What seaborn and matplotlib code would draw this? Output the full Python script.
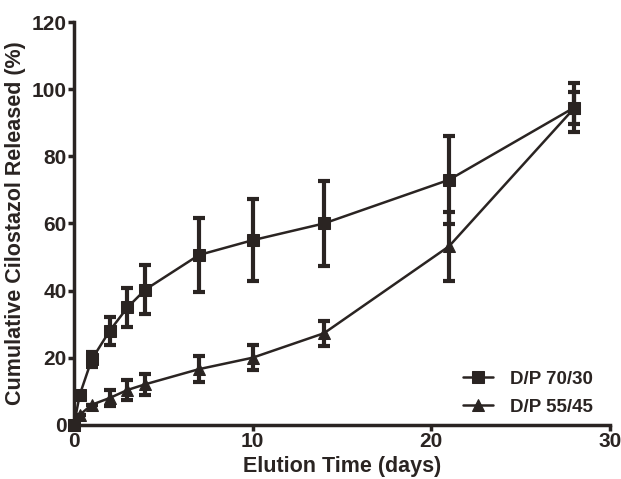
import numpy as np
import pandas as pd
import matplotlib
matplotlib.use('Agg')
import matplotlib.pyplot as plt
import seaborn as sns

# data
days = [0, 0.33, 1, 2, 3, 4, 7, 10, 14, 21, 28]
dp7030_mean = [0, 9, 19.5, 28, 35, 40.3, 50.6, 55, 60, 73, 94.5]
dp7030_sd = [0, 0, 2.3, 4.2, 5.7, 7.4, 11, 12.2, 12.7, 13.2, 7.3]
dp5545_mean = [0, 3, 6, 8, 10.4, 12.1, 16.6, 20, 27.3, 53.2, 94.3]
dp5545_sd = [0, 0, 0, 2.5, 2.9, 3.2, 3.8, 3.7, 3.7, 10.2, 4.8]
labels = ['D/P 70/30', 'D/P 55/45']

sns.set_style('ticks')
plt.rcParams['font.family'] = ['Liberation Sans', 'DejaVu Sans']
plt.rcParams['font.weight'] = 'bold'

col = '#2a2422'

df = pd.DataFrame({
    'day': days * 2,
    'release': dp7030_mean + dp5545_mean,
    'group': [labels[0]] * len(days) + [labels[1]] * len(days),
})

fig = plt.figure(figsize=(6.21, 4.79), dpi=100)
ax = fig.add_axes([0.119, 0.113, 0.863, 0.841])

sns.lineplot(data=df, x='day', y='release', hue='group', style='group',
             markers={labels[0]: 's', labels[1]: '^'}, dashes=False,
             palette=[col, col], linewidth=1.8, markersize=8,
             markeredgecolor=col, ax=ax, clip_on=False, zorder=3)

for m, s in [(dp7030_mean, dp7030_sd), (dp5545_mean, dp5545_sd)]:
    ax.errorbar(days, m, yerr=s, fmt='none', ecolor=col, elinewidth=3,
                capsize=4.5, capthick=3, clip_on=False, zorder=2)

ax.set_xlim(0, 30)
ax.set_ylim(0, 120)
ax.set_xticks([0, 10, 20, 30])
ax.set_yticks([0, 20, 40, 60, 80, 100, 120])
ax.set_xlabel('Elution Time (days)', fontsize=15.5, fontweight='bold', color=col, labelpad=4)
ax.set_ylabel('Cumulative Cilostazol Released (%)', fontsize=15.5, fontweight='bold', color=col, labelpad=4)
ax.tick_params(axis='both', direction='out', length=4, width=2.5, labelsize=15,
               colors=col, pad=1)
for lab in ax.get_xticklabels() + ax.get_yticklabels():
    lab.set_fontweight('bold')
for sp in ['left', 'bottom']:
    ax.spines[sp].set_linewidth(2.5)
    ax.spines[sp].set_color(col)
sns.despine(ax=ax)

leg = ax.legend(loc='lower right', bbox_to_anchor=(1.0, -0.02), frameon=False,
                fontsize=13.5, handlelength=1.6, labelspacing=0.6, handletextpad=0.9)
for t in leg.get_texts():
    t.set_fontweight('bold')
    t.set_color(col)

fig.savefig('out.png', dpi=100)
